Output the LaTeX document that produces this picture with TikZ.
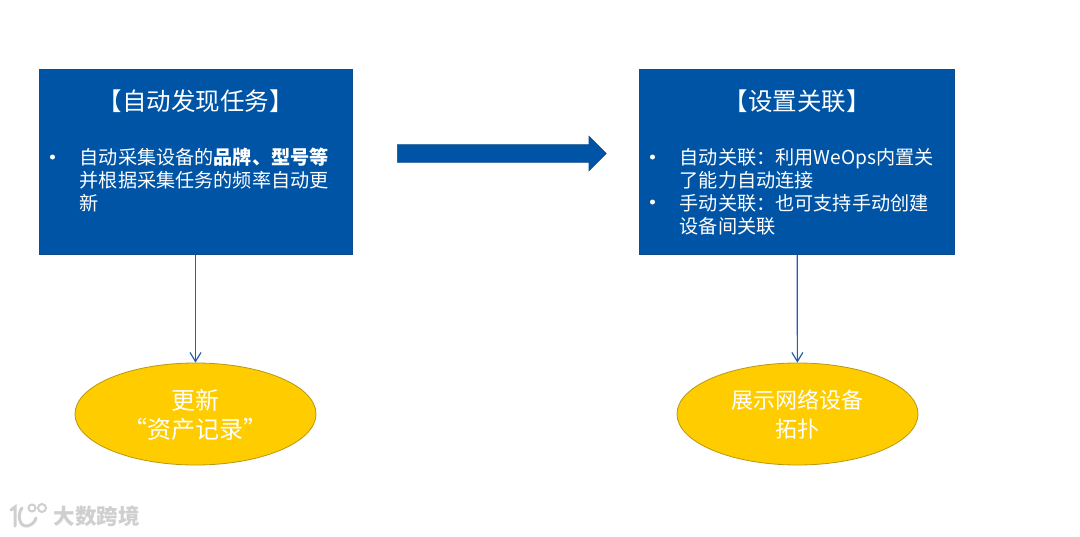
\documentclass[tikz,border=0pt]{standalone}
\usepackage{fontspec}
\setmainfont{Noto Sans CJK SC}
\usetikzlibrary{arrows.meta,shapes.geometric,shapes.arrows}
\definecolor{boxblue}{HTML}{0054A6}
\definecolor{boxedge}{HTML}{0F4C8C}
\definecolor{linkblue}{HTML}{1F60B0}
\definecolor{gold}{HTML}{FFCC00}
\definecolor{goldedge}{HTML}{B9980F}
\definecolor{mark}{HTML}{CFCFCF}
\tikzset{
  x=1pt,y=-1pt,
  taskbox/.style={draw=boxedge,line width=1pt,fill=boxblue,rectangle,inner sep=0pt,minimum height=185pt},
  titletext/.style={text=white,font=\fontsize{24.5}{28}\selectfont,inner sep=0pt},
  bodytext/.style={text=white,font=\fontsize{19.15}{23}\selectfont,align=left,anchor=north west,inner sep=0pt},
  dotmark/.style={circle,fill=white,inner sep=0pt,minimum size=5pt},
  resultnode/.style={ellipse,draw=goldedge,line width=0.8pt,fill=gold,inner sep=0pt,minimum width=241pt,minimum height=102pt},
  resultlabel/.style={text=white,align=center,inner sep=0pt},
  link/.style={draw=linkblue,line width=1.2pt,-{Straight Barb[length=9pt,width=11pt,line width=1.2pt]}},
  bigarrow/.style={single arrow,draw=boxedge,line width=0.6pt,fill=boxblue,minimum height=209pt,minimum width=34pt,single arrow head extend=8.5pt,inner sep=8.5pt,anchor=tail,shape border rotate=0},
  logo/.style={draw=mark,line width=3pt,line cap=round}
}
\begin{document}
\begin{tikzpicture}
\useasboundingbox (0,0) rectangle (1080,536);
\fill[white] (0,0) rectangle (1080,536);
\node[taskbox,minimum width=313pt] (boxa) at (195.5,162) {};
\node[taskbox,minimum width=315.5pt] (boxb) at (797,162) {};
\node[resultnode] (resa) at (195.5,414) {};
\node[resultnode] (resb) at (797.5,414) {};
\node[resultlabel,font=\fontsize{24}{29}\selectfont] (la) at (195.5,414.5) {更新\\“资产记录”};
\node[resultlabel,font=\fontsize{22}{29}\selectfont] (lb) at (797.5,414.5) {展示网络设备\\拓扑};
\node[bigarrow] (flow) at (397,153.5) {};
\node[titletext] (ta) at (195.5,101.5) {【自动发现任务】};
\node[titletext] (tb) at (797,101.5) {【设置关联】};
\node[dotmark] (da) at (52.5,157) {};
\node[bodytext] (ba) at (79.5,148) {自动采集设备的\textbf{品牌、型号等}\\并根据采集任务的频率自动更\\新};
\node[dotmark] (db1) at (652.5,157) {};
\node[dotmark] (db2) at (652.5,202) {};
\node[bodytext] (bb) at (679.5,148.5) {自动关联：利用WeOps内置关\\了能力自动连接\\手动关联：也可支持手动创建\\设备间关联};
\draw[link] (boxa) -- (resa);
\draw[link] (boxb) -- (resb);
% watermark
\draw[logo] (11,510) -- (15,507) -- (15,526);
\draw[logo] (22,508) .. controls (17,514) and (19,527) .. (27,526) .. controls (32,525) and (35,522) .. (36,518);
\draw[draw=mark,line width=2pt] (32,508) circle (3.5);
\draw[draw=mark,line width=2pt] (42,508) circle (4);
\node[text=mark,font=\fontsize{21.5}{24}\selectfont\bfseries,inner sep=0pt] (wm) at (96.5,516) {大数跨境};
\end{tikzpicture}
\end{document}
